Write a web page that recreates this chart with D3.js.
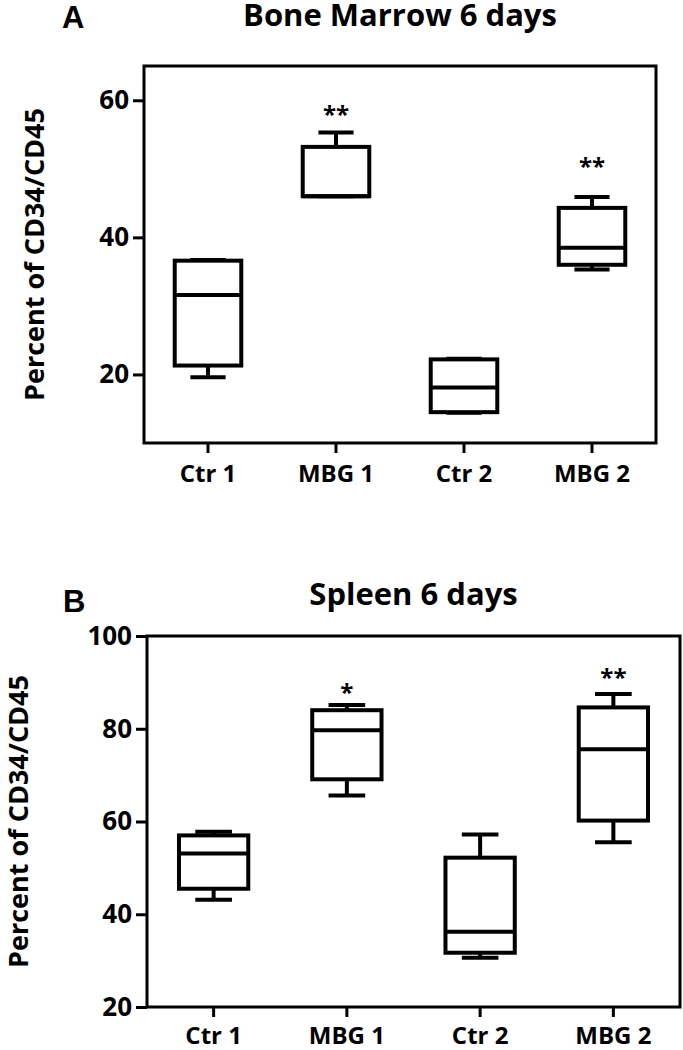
<html>
<head>
<style>
body { margin: 0; background: #fff; font-family: "Open Sans", Arial, sans-serif; }
text { fill: #000; font-weight: 700; }
</style>
</head>
<body>
<script src="https://d3js.org/d3.v7.min.js"></script>
<script>
// categories
var groups = ['Ctr 1', 'MBG 1', 'Ctr 2', 'MBG 2'];

// A: bone marrow, five-number summaries
var marrowMin    = [19.6, 46.0, 14.4, 35.3];
var marrowQ1     = [21.3, 46.0, 14.5, 36.0];
var marrowMedian = [31.6, 46.0, 18.1, 38.5];
var marrowQ3     = [36.6, 53.2, 22.2, 44.3];
var marrowMax    = [36.7, 55.3, 22.3, 45.9];
var marrowStars  = ['', '**', '', '**'];
var marrowStarAt = [null, 58.8, null, 51.2];
var marrowTicks  = [20, 40, 60];

// B: spleen
var spleenMin    = [43.1, 65.6, 30.6, 55.5];
var spleenQ1     = [45.5, 69.1, 31.7, 60.2];
var spleenMedian = [53.1, 79.7, 36.2, 75.6];
var spleenQ3     = [57.0, 84.0, 52.2, 84.6];
var spleenMax    = [57.8, 85.1, 57.2, 87.5];
var spleenStars  = ['', '*', '', '**'];
var spleenStarAt = [null, 89.0, null, 92.3];
var spleenTicks  = [20, 40, 60, 80, 100];

var width = 683;
var height = 1050;

var svg = d3.select('body')
    .append('svg')
    .attr('width', width)
    .attr('height', height);

function rows(mn, q1, md, q3, mx, stars, starAt) {
    return groups.map(function(name, i) {
        return {name: name, min: mn[i], q1: q1[i], median: md[i], q3: q3[i], max: mx[i],
                star: stars[i], starAt: starAt[i]};
    });
}

function drawPanel(p) {
    var g = svg.append('g')
        .attr('transform', 'translate(' + p.left + ',' + p.top + ')');

    var x = d3.scaleBand().domain(groups).range([0, p.width]);
    var y = d3.scaleLinear().domain(p.domain).range([p.height, 0]);
    var bw = x.bandwidth();
    var boxW = bw * 0.52;
    var capW = bw * 0.275;
    var cx = function(d) { return x(d.name) + bw / 2; };

    // frame
    g.append('rect')
        .attr('width', p.width)
        .attr('height', p.height)
        .attr('fill', 'none')
        .attr('stroke', '#000')
        .attr('stroke-width', 3);

    // axes
    var yAxis = d3.axisLeft(y).tickValues(p.ticks).tickSize(11).tickPadding(4).tickSizeOuter(0);
    var ya = g.append('g').attr('class', 'y-axis').call(yAxis);
    var xAxis = d3.axisBottom(x).tickSize(10).tickPadding(p.xPad).tickSizeOuter(0);
    var xa = g.append('g').attr('class', 'x-axis')
        .attr('transform', 'translate(0,' + p.height + ')')
        .call(xAxis);
    [ya, xa].forEach(function(a) {
        a.select('.domain').remove();
        a.selectAll('line').attr('stroke', '#000').attr('stroke-width', 3);
        a.selectAll('text').attr('font-family', '"Open Sans", Arial, sans-serif')
            .attr('font-weight', 700).attr('fill', '#000');
    });
    ya.selectAll('text').attr('font-size', 26);
    xa.selectAll('text').attr('font-size', 24);

    // boxes
    var box = g.selectAll('.box')
        .data(p.data)
        .enter()
        .append('g')
        .attr('class', 'box')
        .attr('stroke', '#000')
        .attr('stroke-width', 4)
        .attr('fill', 'none');

    box.append('line')
        .attr('x1', cx).attr('x2', cx)
        .attr('y1', function(d) { return y(d.q3); })
        .attr('y2', function(d) { return y(d.max); });
    box.append('line')
        .attr('x1', cx).attr('x2', cx)
        .attr('y1', function(d) { return y(d.q1); })
        .attr('y2', function(d) { return y(d.min); });
    box.append('line')
        .attr('x1', function(d) { return cx(d) - capW / 2; })
        .attr('x2', function(d) { return cx(d) + capW / 2; })
        .attr('y1', function(d) { return y(d.max); })
        .attr('y2', function(d) { return y(d.max); });
    box.append('line')
        .attr('x1', function(d) { return cx(d) - capW / 2; })
        .attr('x2', function(d) { return cx(d) + capW / 2; })
        .attr('y1', function(d) { return y(d.min); })
        .attr('y2', function(d) { return y(d.min); });
    box.append('rect')
        .attr('x', function(d) { return cx(d) - boxW / 2; })
        .attr('y', function(d) { return y(d.q3); })
        .attr('width', boxW)
        .attr('height', function(d) { return y(d.q1) - y(d.q3); })
        .attr('fill', '#fff');
    box.append('line')
        .attr('x1', function(d) { return cx(d) - boxW / 2; })
        .attr('x2', function(d) { return cx(d) + boxW / 2; })
        .attr('y1', function(d) { return y(d.median); })
        .attr('y2', function(d) { return y(d.median); });

    // significance marks
    g.selectAll('.star')
        .data(p.data.filter(function(d) { return d.star; }))
        .enter()
        .append('text')
        .attr('class', 'star')
        .attr('x', cx)
        .attr('y', function(d) { return y(d.starAt); })
        .attr('dy', '0.6em')
        .attr('text-anchor', 'middle')
        .attr('font-size', 24)
        .text(function(d) { return d.star; });

    // axis label
    g.append('text')
        .attr('transform', 'translate(' + p.labelX + ',' + (p.height / 2) + ') rotate(-90)')
        .attr('text-anchor', 'middle')
        .attr('font-size', 27)
        .text('Percent of CD34/CD45');

    // title
    g.append('text')
        .attr('x', p.width / 2)
        .attr('y', p.titleY)
        .attr('text-anchor', 'middle')
        .attr('font-size', 31)
        .text(p.title);

    // panel letter
    g.append('text')
        .attr('x', p.letterX)
        .attr('y', p.letterY)
        .attr('font-family', '"Liberation Sans", Arial, sans-serif')
        .attr('font-size', 31)
        .text(p.letter);
}

drawPanel({
    left: 144, top: 66, width: 512, height: 377,
    domain: [10, 65], ticks: marrowTicks, xPad: 12,
    data: rows(marrowMin, marrowQ1, marrowMedian, marrowQ3, marrowMax, marrowStars, marrowStarAt),
    title: 'Bone Marrow 6 days', titleY: -40,
    letter: 'A', letterX: -82, letterY: -38,
    labelX: -100
});

drawPanel({
    left: 147, top: 636, width: 533, height: 371,
    domain: [20, 100], ticks: spleenTicks, xPad: 10,
    data: rows(spleenMin, spleenQ1, spleenMedian, spleenQ3, spleenMax, spleenStars, spleenStarAt),
    title: 'Spleen 6 days', titleY: -31,
    letter: 'B', letterX: -84, letterY: -24,
    labelX: -119
});
</script>
</body>
</html>
